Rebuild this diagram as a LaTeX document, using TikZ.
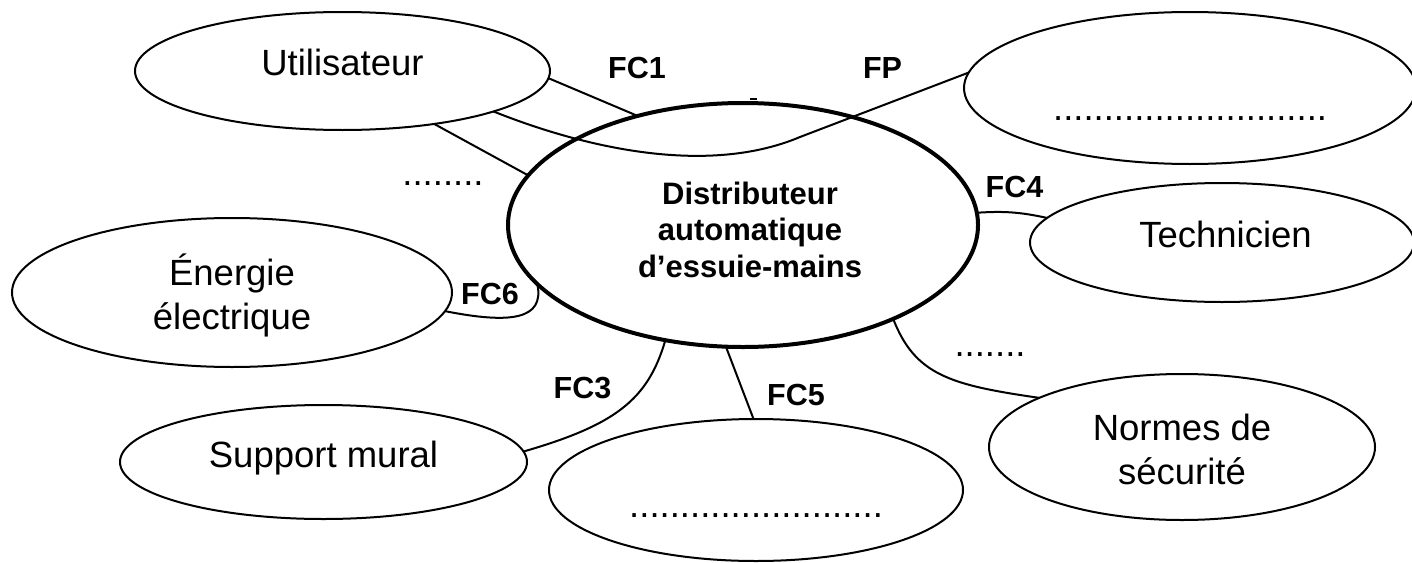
\documentclass[tikz,border=0pt]{standalone}
\usepackage{fontspec}
\setmainfont{Liberation Sans}
\usetikzlibrary{shapes.geometric}
\newcommand{\elltext}[3][0pt]{\raisebox{#2}[0pt][0pt]{\hspace*{#1}\begin{tabular}[b]{@{}c@{}}#3\end{tabular}}}
\tikzset{
  ell/.style={ellipse, draw, line width=2pt, inner sep=0pt, outer sep=0pt, font=\fontsize{36.5}{44}\selectfont},
  mainell/.style={ellipse, draw, line width=4pt, inner sep=0pt, outer sep=0pt, font=\fontsize{31}{36.5}\selectfont\bfseries},
  conn/.style={line width=2pt},
  lab/.style={font=\fontsize{30.5}{36}\selectfont\bfseries, anchor=base, inner sep=0pt},
  dotlab/.style={font=\fontsize{36.5}{44}\selectfont, anchor=base, inner sep=0pt},
}
\begin{document}
\begin{tikzpicture}[x=1pt, y=-1pt]
\useasboundingbox (0,0) rectangle (1412,562);
% ellipses
\node[mainell, minimum width=470pt, minimum height=244pt] (C) at (743,225) {\elltext[14pt]{-52pt}{Distributeur\\automatique\\d’essuie-mains}};
\node[ell, minimum width=415pt, minimum height=118pt] (U) at (342.5,71) {\elltext{-4pt}{Utilisateur}};
\node[ell, minimum width=452pt, minimum height=152pt] (R) at (1190,88) {\elltext{-32pt}{...........................}};
\node[ell, minimum width=384pt, minimum height=119pt] (T) at (1222,242.5) {\elltext[7pt]{-4.5pt}{Technicien}};
\node[ell, minimum width=440pt, minimum height=149pt] (E) at (232,292.5) {\elltext{-36.5pt}{Énergie\\électrique}};
\node[ell, minimum width=407pt, minimum height=114pt] (S) at (323.5,462) {\elltext{-5pt}{Support mural}};
\node[ell, minimum width=414pt, minimum height=142pt] (B) at (756,490) {\elltext{-27pt}{.........................}};
\node[ell, minimum width=386pt, minimum height=146pt] (N) at (1182,447) {\elltext{-37pt}{Normes de\\sécurité}};
% connectors
\draw[conn] (U.-2.5) -- (C.134.5);
\draw[conn] (U.-30.8) -- (C.167.6);
\draw[conn] (U.-15.9) .. controls (590,150) and (710,175) .. (800,137) -- (R.176.7);
\draw[conn] (C.3.2) to[bend left=8] (T.172.5);
\draw[conn] (E.-5.9) .. controls (510,324) and (545,320) .. (C.196.7);
\draw[conn] (C.236.3) .. controls (648,400) and (615,425) .. (S.3.7);
\draw[conn] (C.262.6) -- (B.92.4);
\draw[conn] (C.328.8) .. controls (915,375) and (950,385) .. (N.161.3);
\draw[line width=2pt] (750,99) -- (757,99);
% labels
\node[lab] (fc1) at (637,78) {FC1};
\node[lab] (fp) at (882.5,78) {FP};
\node[lab] (fc4) at (1014.5,197) {FC4};
\node[lab] (fc6) at (490,304) {FC6};
\node[lab] (fc3) at (582.5,398) {FC3};
\node[lab] (fc5) at (796,405) {FC5};
\node[dotlab] (d1) at (443,185) {........};
\node[dotlab] (d2) at (990,356) {.......};
\end{tikzpicture}
\end{document}
